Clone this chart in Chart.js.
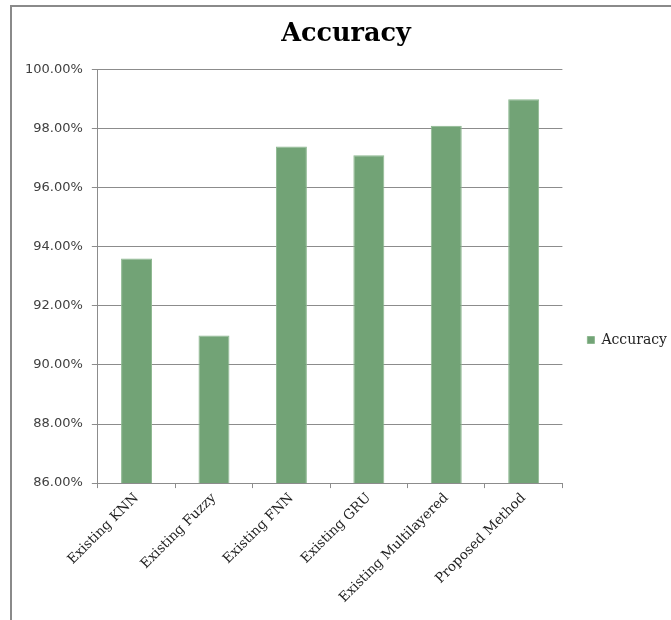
<!DOCTYPE html>
<html>
<head>
<meta charset="utf-8">
<title>Accuracy</title>
<script src="https://cdn.jsdelivr.net/npm/chart.js@4"></script>
<style>
  html, body { margin: 0; padding: 0; background: #fff; overflow: hidden; }
  #frame {
    position: absolute; left: 10px; top: 5px;
    width: 720px; height: 720px;
    border: 2px solid #8a8a8a;
  }
  #wrap { position: absolute; left: 0; top: 0; width: 671px; height: 620px; }
</style>
</head>
<body>
<div id="frame"></div>
<div id="wrap"><canvas id="accChart"></canvas></div>
<script>
const methods = ['Existing KNN', 'Existing Fuzzy', 'Existing FNN', 'Existing GRU', 'Existing Multilayered', 'Proposed Method'];
const accuracy = [93.6, 91.0, 97.4, 97.1, 98.1, 99.0];
const yMin = 86;
const yMax = 100;
const yStep = 2;

const serif = '"DejaVu Serif", serif';

// nudge the right-hand legend away from the plot and below its middle,
// and centre the title over the framed area rather than the canvas
const boxShift = {
    id: 'boxShift',
    afterUpdate(chart) {
        const lg = chart.legend;
        if (lg) {
            lg.left += 21;
            lg.right += 21;
            lg.top += 36;
            lg.bottom += 36;
        }
        const tb = chart.titleBlock;
        if (tb) {
            tb.left += 10;
            tb.right += 10;
        }
    }
};

const ctx = document.getElementById('accChart').getContext('2d');
new Chart(ctx, {
    type: 'bar',
    data: {
        labels: methods,
        datasets: [{
            label: 'Accuracy',
            data: accuracy,
            backgroundColor: '#72a376',
            borderColor: '#8db890',
            borderWidth: 1,
            categoryPercentage: 1,
            barPercentage: 0.4
        }]
    },
    options: {
        responsive: true,
        maintainAspectRatio: false,
        animation: false,
        layout: { padding: { left: 16, right: 15, top: 0, bottom: 12 } },
        scales: {
            x: {
                grid: {
                    drawOnChartArea: false,
                    drawTicks: true,
                    tickLength: 5,
                    color: '#8c8c8c'
                },
                border: { color: '#8c8c8c', width: 1 },
                ticks: {
                    autoSkip: false,
                    minRotation: 45,
                    maxRotation: 45,
                    padding: 2,
                    color: '#222',
                    font: { family: serif, size: 13.5 }
                }
            },
            y: {
                min: yMin,
                max: yMax,
                grid: { color: '#8c8c8c', tickLength: 6 },
                border: { color: '#8c8c8c', width: 1 },
                ticks: {
                    stepSize: yStep,
                    padding: 9,
                    color: '#404040',
                    font: { family: '"DejaVu Sans", sans-serif', size: 13 },
                    callback: v => v.toFixed(2) + '%'
                }
            }
        },
        plugins: {
            title: {
                display: true,
                text: 'Accuracy',
                color: '#000',
                font: { family: serif, size: 25.5, weight: 'bold' },
                padding: { top: 19, bottom: 20 }
            },
            legend: {
                position: 'right',
                labels: {
                    boxWidth: 7,
                    boxHeight: 7,
                    padding: 4,
                    color: '#222',
                    font: { family: serif, size: 14 }
                }
            },
            tooltip: { enabled: false }
        }
    },
    plugins: [boxShift]
});
</script>
</body>
</html>
